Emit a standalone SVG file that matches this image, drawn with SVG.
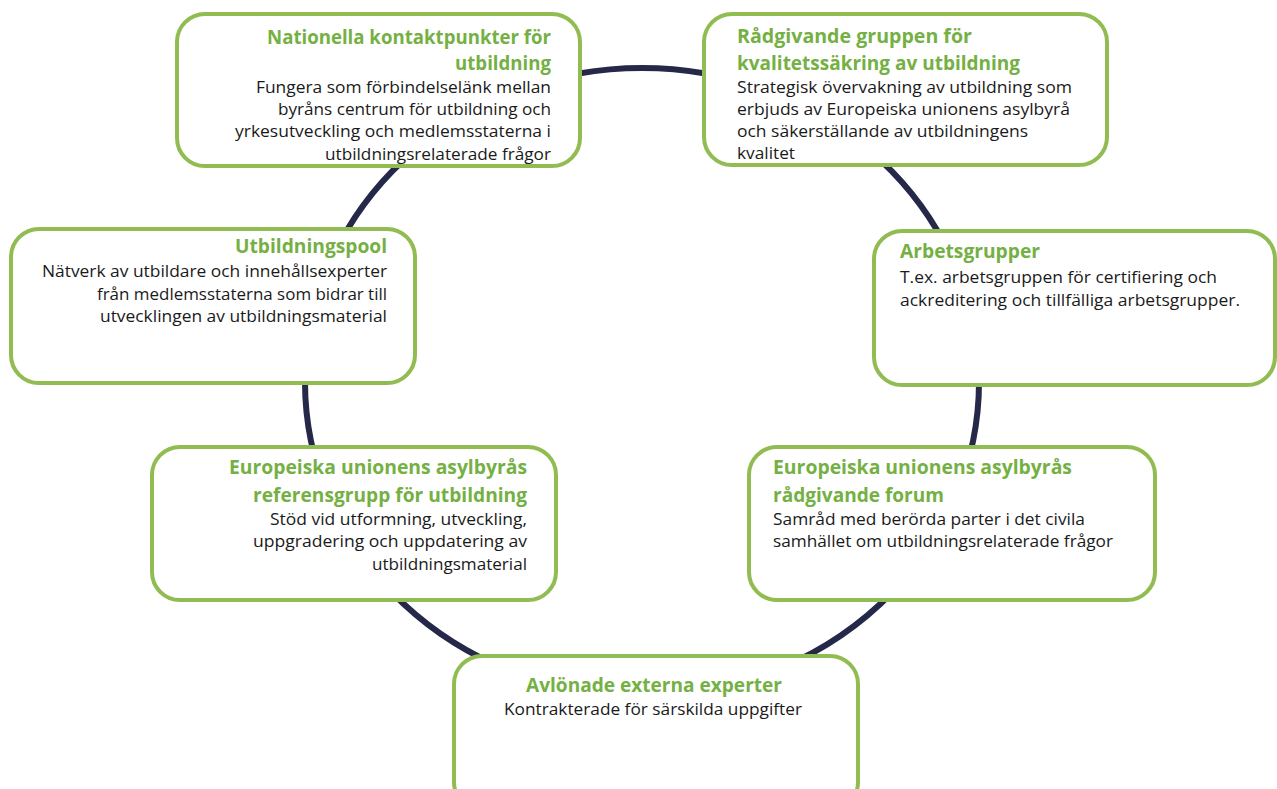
<svg xmlns="http://www.w3.org/2000/svg" width="1277" height="789" viewBox="0 0 1277 789">
<style>
.box{fill:#ffffff;stroke:#90bc52;stroke-width:4}
.t{font-family:"Open Sans","Liberation Sans",sans-serif;font-weight:bold;font-size:19px;fill:#74b043}
.b{font-family:"Open Sans","Liberation Sans",sans-serif;font-size:17px;fill:#1a1a1a}
.ring{fill:none;stroke:#252849;stroke-width:6}
</style>
<rect width="1277" height="789" fill="#ffffff"/>
<g id="connectors">
<ellipse class="ring" cx="642" cy="382" rx="337" ry="314"/>
</g>
<g id="node-nationella">
<rect class="box" x="177" y="14" width="403" height="152" rx="28"/>
<text class="t" x="267" y="44" textLength="284" lengthAdjust="spacingAndGlyphs">Nationella kontaktpunkter för</text>
<text class="t" x="455" y="70" textLength="96" lengthAdjust="spacingAndGlyphs">utbildning</text>
<text class="b" x="256" y="93" textLength="295" lengthAdjust="spacingAndGlyphs">Fungera som förbindelselänk mellan</text>
<text class="b" x="278" y="115" textLength="273" lengthAdjust="spacingAndGlyphs">byråns centrum för utbildning och</text>
<text class="b" x="235" y="137" textLength="316" lengthAdjust="spacingAndGlyphs">yrkesutveckling och medlemsstaterna i</text>
<text class="b" x="325" y="160" textLength="226" lengthAdjust="spacingAndGlyphs">utbildningsrelaterade frågor</text>
</g>
<g id="node-radgivande-gruppen">
<rect class="box" x="704" y="14" width="403" height="151" rx="28"/>
<text class="t" x="737" y="43" textLength="235" lengthAdjust="spacingAndGlyphs">Rådgivande gruppen för</text>
<text class="t" x="737" y="70" textLength="283" lengthAdjust="spacingAndGlyphs">kvalitetssäkring av utbildning</text>
<text class="b" x="737" y="93" textLength="335" lengthAdjust="spacingAndGlyphs">Strategisk övervakning av utbildning som</text>
<text class="b" x="737" y="115" textLength="333" lengthAdjust="spacingAndGlyphs">erbjuds av Europeiska unionens asylbyrå</text>
<text class="b" x="737" y="137" textLength="291" lengthAdjust="spacingAndGlyphs">och säkerställande av utbildningens</text>
<text class="b" x="737" y="159" textLength="58" lengthAdjust="spacingAndGlyphs">kvalitet</text>
</g>
<g id="node-utbildningspool">
<rect class="box" x="11" y="229" width="404" height="154" rx="28"/>
<text class="t" x="235" y="253" textLength="152" lengthAdjust="spacingAndGlyphs">Utbildningspool</text>
<text class="b" x="42" y="277" textLength="345" lengthAdjust="spacingAndGlyphs">Nätverk av utbildare och innehållsexperter</text>
<text class="b" x="97" y="300" textLength="290" lengthAdjust="spacingAndGlyphs">från medlemsstaterna som bidrar till</text>
<text class="b" x="100" y="322" textLength="287" lengthAdjust="spacingAndGlyphs">utvecklingen av utbildningsmaterial</text>
</g>
<g id="node-arbetsgrupper">
<rect class="box" x="874" y="231" width="401" height="154" rx="28"/>
<text class="t" x="900" y="258" textLength="140" lengthAdjust="spacingAndGlyphs">Arbetsgrupper</text>
<text class="b" x="900" y="283" textLength="317" lengthAdjust="spacingAndGlyphs">T.ex. arbetsgruppen för certifiering och</text>
<text class="b" x="900" y="306" textLength="340" lengthAdjust="spacingAndGlyphs">ackreditering och tillfälliga arbetsgrupper.</text>
</g>
<g id="node-referensgrupp">
<rect class="box" x="152" y="447" width="404" height="153" rx="28"/>
<text class="t" x="229" y="474" textLength="298" lengthAdjust="spacingAndGlyphs">Europeiska unionens asylbyrås</text>
<text class="t" x="253" y="502" textLength="274" lengthAdjust="spacingAndGlyphs">referensgrupp för utbildning</text>
<text class="b" x="270" y="525" textLength="257" lengthAdjust="spacingAndGlyphs">Stöd vid utformning, utveckling,</text>
<text class="b" x="253" y="547" textLength="274" lengthAdjust="spacingAndGlyphs">uppgradering och uppdatering av</text>
<text class="b" x="372" y="570" textLength="155" lengthAdjust="spacingAndGlyphs">utbildningsmaterial</text>
</g>
<g id="node-radgivande-forum">
<rect class="box" x="749" y="447" width="406" height="153" rx="28"/>
<text class="t" x="773" y="474" textLength="299" lengthAdjust="spacingAndGlyphs">Europeiska unionens asylbyrås</text>
<text class="t" x="773" y="502" textLength="171" lengthAdjust="spacingAndGlyphs">rådgivande forum</text>
<text class="b" x="773" y="525" textLength="312" lengthAdjust="spacingAndGlyphs">Samråd med berörda parter i det civila</text>
<text class="b" x="773" y="547" textLength="340" lengthAdjust="spacingAndGlyphs">samhället om utbildningsrelaterade frågor</text>
</g>
<g id="node-avlonade">
<rect class="box" x="454" y="656" width="404" height="154" rx="28"/>
<text class="t" x="526" y="692" textLength="256" lengthAdjust="spacingAndGlyphs">Avlönade externa experter</text>
<text class="b" x="504" y="715" textLength="298" lengthAdjust="spacingAndGlyphs">Kontrakterade för särskilda uppgifter</text>
</g>
</svg>
